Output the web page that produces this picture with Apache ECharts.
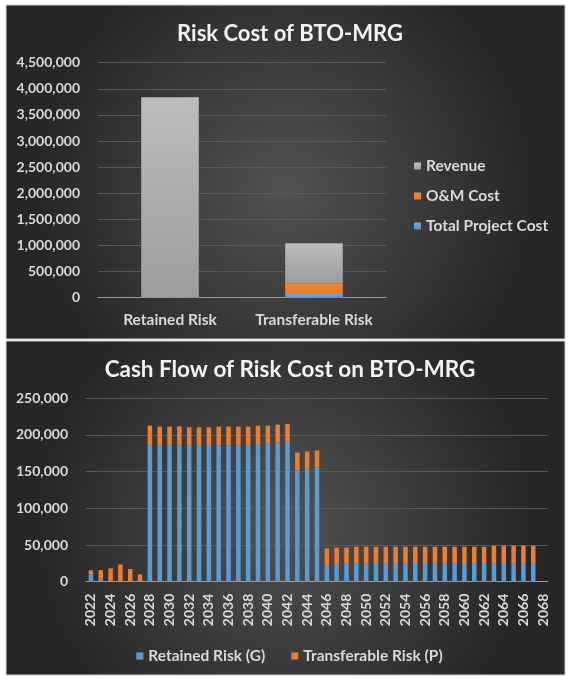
<!DOCTYPE html>
<html>
<head>
<meta charset="utf-8">
<script src="https://cdn.jsdelivr.net/npm/echarts@6/dist/echarts.min.js"></script>
<style>
html,body{margin:0;padding:0;background:#ffffff;}
#c{width:579px;height:687px;}
</style>
</head>
<body>
<div id="c"></div>
<script>
// ---- Top chart data ----
var riskCategories = ['Retained Risk', 'Transferable Risk'];
var totalProjectCost = [10000, 72000];
var omCost = [0, 205000];
var revenue = [3830000, 765000];
var topTicks = { min: 0, max: 4500000, interval: 500000 };

// ---- Bottom chart data ----
var years = ['2022','2023','2024','2025','2026','2027','2028','2029','2030','2031','2032','2033','2034','2035','2036','2037','2038','2039','2040','2041','2042','2043','2044','2045','2046','2047','2048','2049','2050','2051','2052','2053','2054','2055','2056','2057','2058','2059','2060','2061','2062','2063','2064','2065','2066','2067','2068'];
var retainedRiskG = [10000,4000,0,0,0,0,185500,185500,185500,185500,185500,185500,185500,186000,186000,186000,186400,187300,188600,189500,190500,151800,154000,155500,21800,23600,24500,24500,25400,25400,25400,25400,25400,25400,25400,25400,25400,25400,25400,25400,25400,25400,25400,25400,25400,25400,null];
var transferableRiskP = [5500,11900,18200,23600,17300,10000,27200,25900,25900,26300,25000,25000,25000,25400,25400,25400,25000,25400,24100,24500,24500,24200,23700,23500,23600,22800,21900,23200,22300,22300,22300,22300,22300,22300,22300,22300,22300,22300,22300,22300,22300,23700,23700,23700,23700,23700,null];
var bottomTicks = { min: 0, max: 250000, interval: 50000 };

var FONT = 'Lato';
var TXT = '#d9d9d9';
var BLUE = '#5b9bd5', ORANGE = '#ed7d31';

function bg() {
  return { type: 'radial', x: 0.5, y: 0.55, r: 0.75,
    colorStops: [{offset: 0, color: '#525252'}, {offset: 1, color: '#262626'}] };
}
function vgrad(top, bottom) {
  return { type: 'linear', x: 0, y: 0, x2: 0, y2: 1,
    colorStops: [{offset: 0, color: top}, {offset: 1, color: bottom}] };
}
function fmt(v) { return Number(v).toLocaleString('en-US'); }

var chart = echarts.init(document.getElementById('c'), null, {renderer: 'canvas'});
chart.setOption({
  backgroundColor: '#ffffff',
  animation: false,
  graphic: [
    { type: 'rect', z: -10, silent: true, shape: { x: 6, y: 5, width: 559, height: 334 },
      style: { fill: bg(), stroke: '#d0d0d0', lineWidth: 1 } },
    { type: 'rect', z: -10, silent: true, shape: { x: 6, y: 341, width: 559, height: 334 },
      style: { fill: bg(), stroke: '#d0d0d0', lineWidth: 1 } }
  ],
  title: [
    { text: 'Risk Cost of BTO-MRG', left: 285, top: 18, textAlign: 'center',
      textStyle: { fontFamily: FONT, fontWeight: 'bold', fontSize: 22, color: '#f2f2f2' } },
    { text: 'Cash Flow of Risk Cost on BTO-MRG', left: 285, top: 353, textAlign: 'center',
      textStyle: { fontFamily: FONT, fontWeight: 'bold', fontSize: 22.5, color: '#f2f2f2' } }
  ],
  legend: [
    { orient: 'vertical', left: 409, top: 152, itemWidth: 7, itemHeight: 7, itemGap: 12,
      icon: 'rect', data: ['Revenue', 'O&M Cost', 'Total Project Cost'],
      textStyle: { fontFamily: FONT, fontWeight: 'bold', fontSize: 15.5, color: TXT, lineHeight: 18 } },
    { orient: 'horizontal', left: 'center', top: 642, itemWidth: 7, itemHeight: 7, itemGap: 26,
      icon: 'rect', data: ['Retained Risk (G)', 'Transferable Risk (P)'],
      textStyle: { fontFamily: FONT, fontWeight: 'bold', fontSize: 15.5, color: TXT, lineHeight: 18 } }
  ],
  grid: [
    { left: 98, right: 193, top: 62.7, bottom: 389.3, containLabel: false },
    { left: 86, right: 31, top: 398.3, bottom: 105.3, containLabel: false }
  ],
  xAxis: [
    { type: 'category', gridIndex: 0, data: riskCategories,
      axisLine: { lineStyle: { color: '#9a9a9a', width: 1 } }, axisTick: { show: false },
      axisLabel: { fontFamily: FONT, fontWeight: 'bold', fontSize: 15.5, color: TXT, margin: 14, interval: 0, hideOverlap: false } },
    { type: 'category', gridIndex: 1, data: years,
      axisLine: { lineStyle: { color: '#9a9a9a', width: 1 } }, axisTick: { show: false },
      axisLabel: { fontFamily: FONT, fontWeight: 'bold', fontSize: 14, color: TXT, rotate: 90, interval: 1, margin: 12 } }
  ],
  yAxis: [
    { type: 'value', gridIndex: 0, min: topTicks.min, max: topTicks.max, interval: topTicks.interval,
      axisLine: { show: false }, axisTick: { show: false },
      splitLine: { lineStyle: { color: '#5a5a5a', width: 1 } },
      axisLabel: { fontFamily: FONT, fontWeight: 'bold', fontSize: 14, color: TXT, margin: 18, formatter: fmt } },
    { type: 'value', gridIndex: 1, min: bottomTicks.min, max: bottomTicks.max, interval: bottomTicks.interval,
      axisLine: { show: false }, axisTick: { show: false },
      splitLine: { lineStyle: { color: '#5a5a5a', width: 1 } },
      axisLabel: { fontFamily: FONT, fontWeight: 'bold', fontSize: 14, color: TXT, margin: 18, formatter: fmt } }
  ],
  series: [
    { name: 'Total Project Cost', type: 'bar', stack: 'top', xAxisIndex: 0, yAxisIndex: 0, barWidth: '40%',
      data: totalProjectCost, itemStyle: { color: vgrad('#6aaae4', '#5393cf') } },
    { name: 'O&M Cost', type: 'bar', stack: 'top', xAxisIndex: 0, yAxisIndex: 0, barWidth: '40%',
      data: omCost, itemStyle: { color: vgrad('#f5862f', '#ea7a28') } },
    { name: 'Revenue', type: 'bar', stack: 'top', xAxisIndex: 0, yAxisIndex: 0, barWidth: '40%',
      data: revenue, itemStyle: { color: vgrad('#bcbcbc', '#9d9d9d') } },
    { name: 'Retained Risk (G)', type: 'bar', stack: 'bot', xAxisIndex: 1, yAxisIndex: 1, barWidth: '46%',
      data: retainedRiskG, itemStyle: { color: BLUE } },
    { name: 'Transferable Risk (P)', type: 'bar', stack: 'bot', xAxisIndex: 1, yAxisIndex: 1, barWidth: '46%',
      data: transferableRiskP, itemStyle: { color: ORANGE } }
  ]
});
</script>
</body>
</html>
